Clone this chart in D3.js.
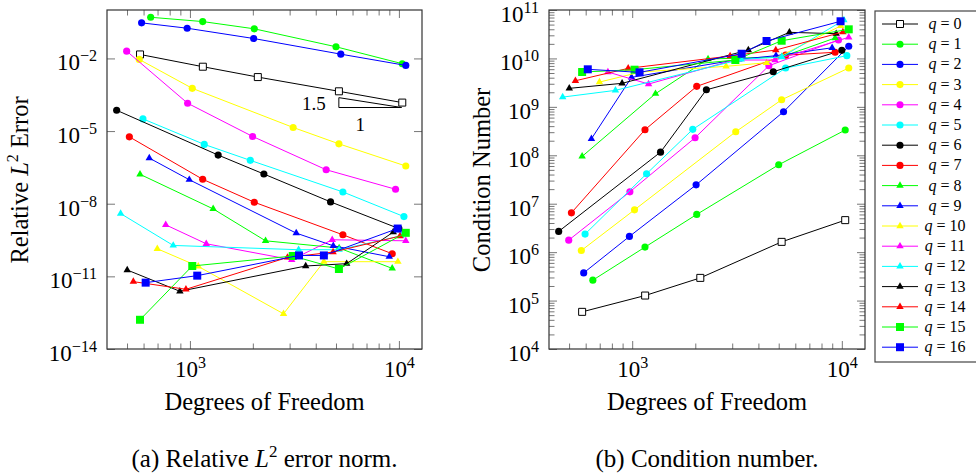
<!DOCTYPE html>
<html>
<head>
<meta charset="utf-8">
<script src="https://d3js.org/d3.v7.min.js"></script>
<style>
  body { margin: 0; background: #fff; }
  svg text { fill: #000; }
</style>
</head>
<body>
<div id="chart"></div>
<script>
// ---- data ----
const qValues = d3.range(17);

// degrees of freedom, one row per q
const dof = [
  [577, 1153, 2113, 5164, 10380],
  [649, 1151, 2032, 5000, 10380],
  [587, 970, 2018, 5272, 10790],
  [572, 1026, 3119, 5164, 10790],
  [498, 975, 1995, 4487, 9640],
  [596, 1171, 1945, 5395, 10570],
  [446, 1365, 2259, 4710, 10000],
  [513, 1151, 2032, 5395, 9290],
  [577, 1292, 2301, 5176, 9290],
  [639, 993, 3227, 4853, 8990],
  [698, 1096, 2805, 4375, 9890],
  [766, 1197, 3069, 4797, 10790],
  [466, 832, 3311, 5176, 10230],
  [501, 895, 3581, 5623, 9397],
  [536, 957, 2931, 4842, 10120],
  [577, 1026, 3105, 5164, 10790],
  [614, 1084, 3327, 4375, 9863]
];

// relative L2 error
const relError = [
  [1.46e-2, 4.55e-3, 1.70e-3, 4.39e-4, 1.50e-4],
  [0.501, 0.333, 0.167, 3.03e-2, 6.05e-3],
  [0.294, 0.177, 6.65e-2, 1.50e-2, 5.15e-3],
  [9.1e-3, 5.82e-4, 1.41e-5, 2.97e-6, 3.6e-7],
  [2.0e-2, 1.41e-4, 6.0e-6, 2.53e-7, 3.95e-8],
  [3.18e-5, 2.81e-6, 6.17e-7, 3.06e-8, 2.94e-9],
  [7.24e-5, 1.02e-6, 1.68e-7, 1.19e-8, 9.4e-10],
  [5.77e-6, 1.02e-7, 1.15e-8, 5.2e-10, 8.6e-11],
  [1.64e-7, 6.11e-9, 2.94e-10, 1.48e-10, 2.13e-11],
  [7.67e-7, 9.8e-8, 6.1e-10, 1.83e-10, 6.47e-11],
  [1.38e-10, 2.58e-11, 2.84e-13, 4.03e-11, 4.03e-11],
  [1.34e-9, 2.22e-10, 4.86e-11, 3.24e-10, 2.94e-10],
  [3.92e-9, 1.89e-10, 1.26e-10, 1.26e-10, 4.7e-10],
  [1.83e-11, 2.42e-12, 2.68e-11, 3.34e-11, 6.71e-10],
  [6.05e-12, 2.92e-12, 6.05e-11, 1.01e-10, 4.6e-10],
  [1.61e-13, 2.68e-11, 6.92e-11, 2.01e-11, 6.28e-10],
  [5.5e-12, 1.07e-11, 7.31e-11, 7.31e-11, 9.44e-10]
];

// condition number
const condNumber = [
  [5.85e4, 1.27e5, 2.94e5, 1.63e6, 4.58e6],
  [2.64e5, 1.27e6, 6.01e6, 6.37e7, 3.32e8],
  [3.73e5, 2.11e6, 2.45e7, 7.93e8, 1.78e10],
  [1.08e6, 7.48e6, 3.06e8, 1.40e9, 6.34e9],
  [1.77e6, 1.76e7, 2.30e8, 7.06e9, 2.40e10],
  [2.36e6, 4.15e7, 3.43e8, 6.34e9, 1.14e10],
  [2.68e6, 1.16e8, 2.25e9, 5.31e9, 1.47e10],
  [6.49e6, 3.37e8, 2.65e9, 1.17e10, 1.34e10],
  [9.48e7, 1.87e9, 9.72e9, 1.08e10, 2.64e10],
  [2.19e8, 4.07e9, 9.57e9, 1.14e10, 1.66e10],
  [3.25e9, 5.24e9, 6.87e9, 8.15e9, 4.7e10],
  [5.24e9, 2.96e9, 9.27e9, 9.27e9, 2.73e10],
  [1.59e9, 2.19e9, 9.57e9, 1.07e10, 6.21e10],
  [2.41e9, 3.06e9, 1.49e10, 3.46e10, 3.24e10],
  [3.46e9, 6.24e9, 1.12e10, 1.49e10, 3.51e10],
  [5.24e9, 5.85e9, 9.27e9, 2.32e10, 3.99e10],
  [5.96e9, 5.16e9, 1.25e10, 2.29e10, 5.85e10]
];

const dofTicks = [1e3, 1e4];
const errTicks = [1e-14, 1e-11, 1e-8, 1e-5, 1e-2];
const condTicks = [1e4, 1e5, 1e6, 1e7, 1e8, 1e9, 1e10, 1e11];

// slope triangle (data coords) and its labels
const slopeX = [5160, 10300];
const slopeY = [9.4e-5, 2.4e-4];
const slopeLabels = ["1.5", "1"];

// ---- styles ----
const colors = ["#000", "#00ff00", "#0000ff", "#ffff00", "#ff00ff", "#00ffff", "#000", "#ff0000",
                "#00ff00", "#0000ff", "#ffff00", "#ff00ff", "#00ffff", "#000", "#ff0000", "#00ff00", "#0000ff"];
const markers = qValues.map(q => q === 0 ? "osquare" : q <= 7 ? "circle" : q <= 14 ? "triangle" : "square");

const W = 976, H = 475;
const svg = d3.select("#chart").append("svg").attr("width", W).attr("height", H);

function marker(sel, kind, color) {
  if (kind === "circle") {
    sel.append("path").attr("d", d3.symbol(d3.symbolCircle, 40)()).attr("fill", color);
  } else if (kind === "triangle") {
    sel.append("path").attr("d", d3.symbol(d3.symbolTriangle, 24)()).attr("fill", color);
  } else if (kind === "square") {
    sel.append("path").attr("d", d3.symbol(d3.symbolSquare, 64)()).attr("fill", color);
  } else {
    sel.append("path").attr("d", d3.symbol(d3.symbolSquare, 49)())
      .attr("fill", "#fff").attr("stroke", color).attr("stroke-width", 1);
  }
}

function powLabel(sel, fs) {
  sel.each(function (d) {
    const t = d3.select(this).text(null);
    const e = Math.round(Math.log10(d));
    t.append("tspan").text("10");
    t.append("tspan").attr("dy", -9).attr("font-size", fs * 0.7).text(e < 0 ? "\u2212" + (-e) : e);
  });
}

function minorTicks(domain) {
  const out = [];
  const lo = Math.floor(Math.log10(domain[0])), hi = Math.ceil(Math.log10(domain[1]));
  for (let k = lo; k < hi; k++)
    for (let m = 2; m <= 9; m++) {
      const v = m * Math.pow(10, k);
      if (v > domain[0] && v < domain[1]) out.push(v);
    }
  return out;
}

function panel(o) {
  const x = d3.scaleLog().domain([401, 12900]).range([o.x0, o.x1]);
  const y = d3.scaleLog().domain(o.yDomain).range([349, 10]);
  const g = svg.append("g");
  const fs = 23;

  // x axes (bottom labelled, top mirrored)
  const xb = g.append("g").attr("transform", "translate(0,349)")
    .call(d3.axisBottom(x).tickValues(dofTicks).tickSizeInner(-8).tickSizeOuter(0).tickPadding(12));
  xb.selectAll(".tick text").attr("font-size", fs).attr("dy", "0.71em").call(powLabel, fs);
  g.append("g").attr("transform", "translate(0,349)")
    .call(d3.axisBottom(x).tickValues(minorTicks(x.domain())).tickSizeInner(-5.5).tickSizeOuter(0).tickFormat(""));
  g.append("g").attr("transform", "translate(0,10)")
    .call(d3.axisTop(x).tickValues(dofTicks).tickSizeInner(-8).tickSizeOuter(0).tickFormat(""));
  g.append("g").attr("transform", "translate(0,10)")
    .call(d3.axisTop(x).tickValues(minorTicks(x.domain())).tickSizeInner(-5.5).tickSizeOuter(0).tickFormat(""));

  // y axes
  const yl = g.append("g").attr("transform", `translate(${o.x0},0)`)
    .call(d3.axisLeft(y).tickValues(o.yTicks).tickSizeInner(-8).tickSizeOuter(0).tickPadding(10));
  yl.selectAll(".tick text").attr("font-size", fs).attr("dy", "0.5em").call(powLabel, fs);
  g.append("g").attr("transform", `translate(${o.x1},0)`)
    .call(d3.axisRight(y).tickValues(o.yTicks).tickSizeInner(-8).tickSizeOuter(0).tickFormat(""));
  if (o.yMinor) {
    g.append("g").attr("transform", `translate(${o.x0},0)`)
      .call(d3.axisLeft(y).tickValues(minorTicks(o.yDomain)).tickSizeInner(-5.5).tickSizeOuter(0).tickFormat(""));
    g.append("g").attr("transform", `translate(${o.x1},0)`)
      .call(d3.axisRight(y).tickValues(minorTicks(o.yDomain)).tickSizeInner(-5.5).tickSizeOuter(0).tickFormat(""));
  }
  g.selectAll(".domain").remove();
  g.selectAll(".tick line").attr("stroke", "#777");

  // series
  const line = d3.line().x(d => x(d[0])).y(d => y(d[1]));
  qValues.forEach(q => {
    const pts = dof[q].map((v, i) => [v, o.values[q][i]]);
    g.append("path").attr("d", line(pts)).attr("fill", "none")
      .attr("stroke", colors[q]).attr("stroke-width", 1);
    pts.forEach(p => {
      const m = g.append("g").attr("transform", `translate(${x(p[0])},${y(p[1])})`);
      marker(m, markers[q], colors[q]);
    });
  });

  if (o.slope) {
    g.append("path").attr("fill", "none").attr("stroke", "#000").attr("stroke-width", 1)
      .attr("d", d3.line()([[x(slopeX[0]), y(slopeY[1])], [x(slopeX[0]), y(slopeY[0])],
                             [x(slopeX[1]), y(slopeY[0])], [x(slopeX[0]), y(slopeY[1])]]));
    g.append("text").attr("x", x(slopeX[0]) - 13).attr("y", y(slopeY[0]) + 2)
      .attr("text-anchor", "end").attr("font-size", 19).text(slopeLabels[0]);
    g.append("text").attr("x", (x(slopeX[0]) + x(slopeX[1])) / 2 - 10).attr("y", y(slopeY[0]) + 23)
      .attr("text-anchor", "middle").attr("font-size", 19).text(slopeLabels[1]);
  }

  // frame
  g.append("rect").attr("x", o.x0).attr("y", 10).attr("width", o.x1 - o.x0).attr("height", 339)
    .attr("fill", "none").attr("stroke", "#333").attr("stroke-width", 1.2);

  // labels
  const cx = (o.x0 + o.x1) / 2;
  g.append("text").attr("x", cx).attr("y", 410).attr("text-anchor", "middle")
    .attr("font-size", 24.5).text("Degrees of Freedom");
  const yt = g.append("text").attr("transform", `translate(${o.yLabelX},180) rotate(-90)`)
    .attr("text-anchor", "middle").attr("font-size", 24.5);
  o.yLabel(yt);
  const cap = g.append("text").attr("x", cx).attr("y", 467).attr("text-anchor", "middle").attr("font-size", 25);
  o.caption(cap);
}

panel({
  x0: 107, x1: 422, yDomain: [1e-14, 1], yTicks: errTicks, values: relError, slope: true,
  yLabelX: 28,
  yLabel: t => {
    t.append("tspan").text("Relative ");
    t.append("tspan").attr("font-style", "italic").text("L");
    t.append("tspan").attr("dy", -10).attr("font-size", 16).text("2");
    t.append("tspan").attr("dy", 10).text(" Error");
  },
  caption: t => {
    t.append("tspan").text("(a) Relative ");
    t.append("tspan").attr("font-style", "italic").text("L");
    t.append("tspan").attr("dy", -10).attr("font-size", 17).text("2");
    t.append("tspan").attr("dy", 10).text(" error norm.");
  }
});

panel({
  x0: 549, x1: 865, yDomain: [1e4, 1e11], yTicks: condTicks, yMinor: true, values: condNumber,
  yLabelX: 490,
  yLabel: t => t.text("Condition Number"),
  caption: t => t.text("(b) Condition number.")
});

// legend
const leg = svg.append("g");
leg.append("rect").attr("x", 875).attr("y", 11).attr("width", 120).attr("height", 351)
  .attr("fill", "#fff").attr("stroke", "#444").attr("stroke-width", 1.2);
qValues.forEach(q => {
  const yy = 24 + q * 20.2;
  leg.append("line").attr("x1", 882).attr("x2", 918).attr("y1", yy).attr("y2", yy)
    .attr("stroke", colors[q]).attr("stroke-width", 1);
  const m = leg.append("g").attr("transform", `translate(900,${yy})`);
  marker(m, markers[q], colors[q]);
  const t = leg.append("text").attr("x", 945).attr("y", yy + 5).attr("text-anchor", "middle").attr("font-size", 16);
  t.append("tspan").attr("font-style", "italic").text("q");
  t.append("tspan").text(" = " + q);
});

// one serif face for every text element
svg.selectAll("text").style("font-family", "'Liberation Serif', serif");
</script>
</body>
</html>
